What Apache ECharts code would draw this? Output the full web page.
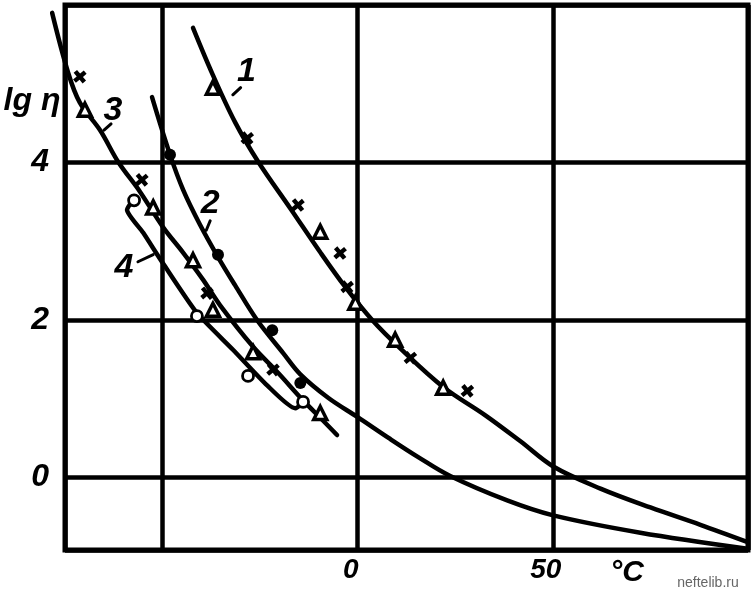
<!DOCTYPE html>
<html>
<head>
<meta charset="utf-8">
<script src="https://cdn.jsdelivr.net/npm/echarts/dist/echarts.min.js"></script>
<style>
html,body{margin:0;padding:0;background:#fff;}
#chart{width:751px;height:593px;}
</style>
</head>
<body>
<div id="chart"></div>
<script>
// ---- data (x in °C, y = lg η) ----
const xTickLabels = [0, 50];
const yTickLabels = [0, 2, 4];

// curve 1
const curve1Line = [[-42.2,5.71],[-37.1,5.11],[-31.4,4.51],[-25.5,4.01],[-17.3,3.42],[-9.6,2.86],[-3.2,2.42],[3.7,2.00],[10.9,1.64],[21.9,1.15],[32.7,0.79],[41.7,0.46],[50.1,0.14],[62.2,-0.14],[75.0,-0.38],[87.8,-0.60],[99.4,-0.81]];
const curve1Cross = [[-28.3,4.31],[-15.3,3.46],[-4.5,2.85],[-2.7,2.42],[13.5,1.52],[28.1,1.10]];
const curve1Tri = [[-37.1,4.95],[-9.6,3.12],[-0.6,2.22],[9.6,1.75],[21.9,1.14]];

// curve 2
const curve2Line = [[-52.7,4.83],[-48.1,4.10],[-44.7,3.65],[-40.4,3.21],[-35.8,2.80],[-31.4,2.44],[-25.8,2.00],[-19.1,1.58],[-14.7,1.31],[-7.5,1.01],[-0.1,0.77],[8.0,0.50],[15.5,0.26],[23.7,0.02],[38.3,-0.29],[50.1,-0.48],[72.4,-0.70],[99.4,-0.90]];
const curve2Dot = [[-48.1,4.10],[-35.8,2.83],[-21.9,1.87],[-14.7,1.20]];

// curve 3
const curve3Line = [[-78.3,5.90],[-74.2,5.14],[-71.2,4.76],[-66.0,4.41],[-61.4,4.01],[-55.8,3.63],[-49.9,3.18],[-44.8,2.86],[-39.6,2.51],[-35.3,2.19],[-26.8,1.66],[-20.6,1.34],[-14.0,0.98],[-9.6,0.76],[-5.3,0.54]];
const curve3Cross = [[-71.2,5.09],[-55.3,3.78],[-38.6,2.34],[-21.7,1.37]];
const curve3Tri = [[-69.9,4.67],[-52.4,3.43],[-42.2,2.76],[-37.1,2.13],[-26.8,1.59],[-9.6,0.82]];

// curve 4
const curve4Line = [[-57.6,3.52],[-59.1,3.40],[-55.0,3.11],[-49.9,2.72],[-41.2,2.09],[-31.9,1.62],[-23.2,1.17],[-16.0,0.88],[-14.0,0.95]];
const curve4Ring = [[-57.3,3.52],[-41.2,2.05],[-28.1,1.29],[-14.0,0.96]];

// curve labels and their leader strokes
const curveLabelText = ['1', '2', '3', '4'];
const curveLabelPos = [[-28.5,5.15],[-37.8,3.48],[-62.7,4.66],[-59.9,2.67]];
const leaders = [
  [[-30.0,4.95],[-32.0,4.86]],
  [[-37.8,3.26],[-38.8,3.14]],
  [[-63.2,4.49],[-65.0,4.41]],
  [[-56.3,2.74],[-52.4,2.83]]
];

// ---- chart ----
const chart = echarts.init(document.getElementById('chart'), null, {renderer: 'canvas'});
const BLACK = '#000';
const labelFont = {fontFamily: '"Liberation Sans Narrow","Liberation Sans",sans-serif', fontWeight: 'bold', fontStyle: 'italic'};
const crossPath = 'path://M4.1,0H7.9V4.1H12V7.9H7.9V12H4.1V7.9H0V4.1H4.1Z';

function lineSeries(data, extra) {
  return Object.assign({
    type: 'line', data: data, smooth: 0.35, showSymbol: false, symbol: 'none',
    lineStyle: {color: BLACK, width: 4.5, cap: 'round', join: 'round', opacity: 1},
    z: 3, silent: true
  }, extra || {});
}
function crossSeries(data) {
  return {type: 'scatter', data: data, symbol: crossPath, symbolSize: 14, symbolRotate: 40,
    itemStyle: {color: BLACK, opacity: 1}, z: 5, silent: true};
}
function triSeries(data) {
  return {type: 'scatter', data: data, symbol: 'triangle', symbolSize: 13,
    itemStyle: {color: '#fff', borderColor: BLACK, borderWidth: 3.5, opacity: 1}, z: 5, silent: true};
}

const series = [
  lineSeries(curve1Line),
  lineSeries(curve2Line),
  lineSeries(curve3Line, {xAxisIndex: 1, yAxisIndex: 1}),
  lineSeries(curve4Line, {smooth: 0.2}),
  crossSeries(curve1Cross), triSeries(curve1Tri),
  crossSeries(curve3Cross), triSeries(curve3Tri),
  {type: 'scatter', data: curve2Dot, symbol: 'circle', symbolSize: 12,
    itemStyle: {color: BLACK, opacity: 1}, z: 5, silent: true},
  {type: 'scatter', data: curve4Ring, symbol: 'circle', symbolSize: 11,
    itemStyle: {color: '#fff', borderColor: BLACK, borderWidth: 2.8, opacity: 1}, z: 5, silent: true},
  {type: 'scatter', symbolSize: 0, silent: true, z: 6, itemStyle: {opacity: 1},
    data: curveLabelPos.map((p, i) => ({value: p, name: curveLabelText[i]})),
    label: Object.assign({show: true, position: 'inside', formatter: p => p.name,
      color: BLACK, opacity: 1, fontSize: 34}, labelFont)}
];
leaders.forEach(seg => series.push(lineSeries(seg, {smooth: false, lineStyle: {color: BLACK, width: 3, cap: 'round', opacity: 1}})));

chart.setOption({
  animation: false,
  backgroundColor: '#fff',
  grid: [
    {left: 65, right: 3, top: 5, bottom: 43, show: true, borderColor: BLACK, borderWidth: 5, backgroundColor: 'transparent'},
    // same scale, wider box: lets curve 3 run past the left frame as in the original
    {left: 45.5, right: 3, top: 5, bottom: 43, show: false}
  ],
  xAxis: [{
    type: 'value', min: -75, max: 100, splitNumber: 3,
    axisLine: {show: false}, axisTick: {show: false},
    splitLine: {show: true, lineStyle: {color: BLACK, width: 4.5}},
    axisLabel: Object.assign({show: true, margin: 6, color: BLACK, fontSize: 28, padding: [0, 14, 0, 0],
      formatter: v => xTickLabels.indexOf(v) >= 0 ? String(v) : ''}, labelFont)
  }, {
    type: 'value', gridIndex: 1, min: -80, max: 100, show: false
  }],
  yAxis: [{
    type: 'value', min: -0.92, max: 6, splitNumber: 3,
    axisLine: {show: false}, axisTick: {show: false},
    splitLine: {show: true, lineStyle: {color: BLACK, width: 4.5}},
    axisLabel: Object.assign({show: true, margin: 16, color: BLACK, fontSize: 32,
      formatter: v => yTickLabels.indexOf(Math.round(v * 1000) / 1000) >= 0 ? String(v) : ''}, labelFont)
  }, {
    type: 'value', gridIndex: 1, min: -0.92, max: 6, show: false
  }],
  graphic: [
    {type: 'text', x: 32, y: 101, silent: true,
      style: {text: 'lg η', fill: BLACK, align: 'center', verticalAlign: 'middle', textAlign: 'center', textVerticalAlign: 'middle',
        font: 'italic bold 32px "Liberation Sans Narrow","Liberation Sans",sans-serif'}},
    {type: 'text', x: 627, y: 573, silent: true,
      style: {text: '°C', fill: BLACK, align: 'center', verticalAlign: 'middle', textAlign: 'center', textVerticalAlign: 'middle',
        font: 'italic bold 30px "Liberation Sans",sans-serif'}},
    {type: 'text', x: 708, y: 583, silent: true,
      style: {text: 'neftelib.ru', fill: '#666', align: 'center', verticalAlign: 'middle', textAlign: 'center', textVerticalAlign: 'middle',
        font: '14px "Liberation Sans Narrow","Liberation Sans",sans-serif'}}
  ],
  series: series
});
</script>
</body>
</html>
